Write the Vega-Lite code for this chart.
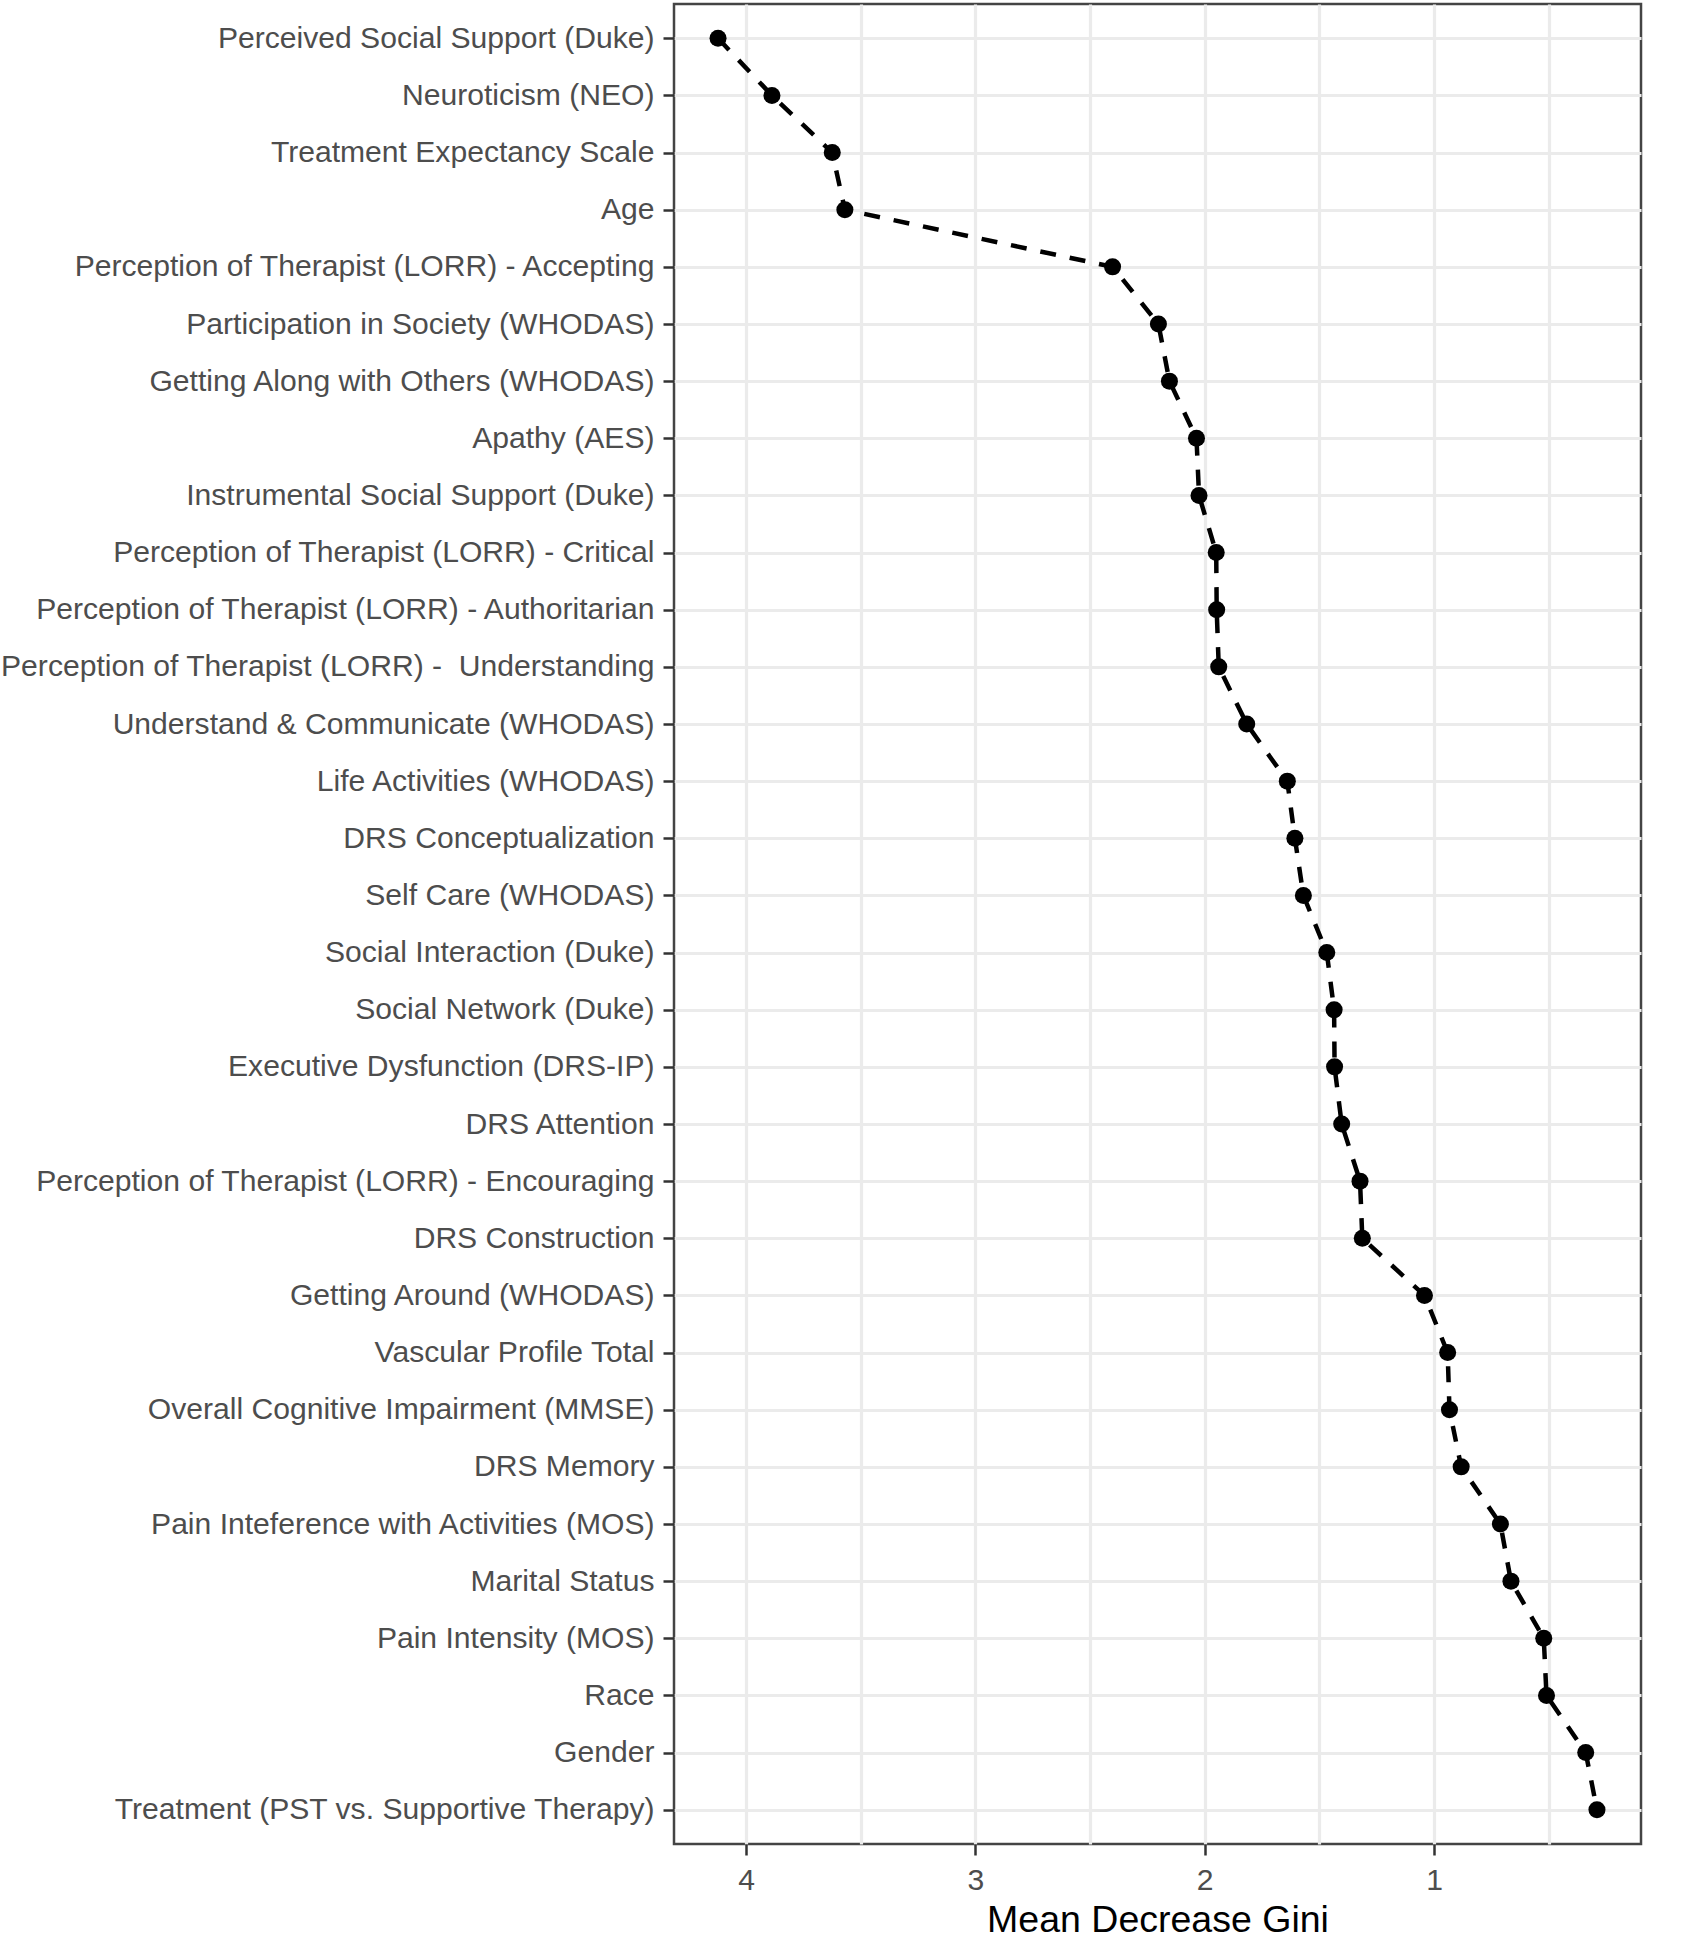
{
  "$schema": "https://vega.github.io/schema/vega-lite/v6.json",
  "autosize": {"type": "none"},
  "padding": {"left": 674, "top": 4, "right": 47, "bottom": 97},
  "width": 967,
  "height": 1840,
  "background": "white",
  "config": {
    "view": {"stroke": "#444444", "strokeWidth": 2.5},
    "font": "Liberation Sans"
  },
  "data": {
    "values": [
      {"rank": 1, "variable": "Perceived Social Support (Duke)", "gini": 4.122},
      {"rank": 2, "variable": "Neuroticism (NEO)", "gini": 3.887},
      {"rank": 3, "variable": "Treatment Expectancy Scale", "gini": 3.624},
      {"rank": 4, "variable": "Age", "gini": 3.569},
      {"rank": 5, "variable": "Perception of Therapist (LORR) - Accepting", "gini": 2.402},
      {"rank": 6, "variable": "Participation in Society (WHODAS)", "gini": 2.202},
      {"rank": 7, "variable": "Getting Along with Others (WHODAS)", "gini": 2.154},
      {"rank": 8, "variable": "Apathy (AES)", "gini": 2.036},
      {"rank": 9, "variable": "Instrumental Social Support (Duke)", "gini": 2.025},
      {"rank": 10, "variable": "Perception of Therapist (LORR) - Critical", "gini": 1.95},
      {"rank": 11, "variable": "Perception of Therapist (LORR) - Authoritarian", "gini": 1.948},
      {"rank": 12, "variable": "Perception of Therapist (LORR) -\u00a0 Understanding", "gini": 1.939},
      {"rank": 13, "variable": "Understand & Communicate (WHODAS)", "gini": 1.817},
      {"rank": 14, "variable": "Life Activities (WHODAS)", "gini": 1.64},
      {"rank": 15, "variable": "DRS Conceptualization", "gini": 1.607},
      {"rank": 16, "variable": "Self Care (WHODAS)", "gini": 1.57},
      {"rank": 17, "variable": "Social Interaction (Duke)", "gini": 1.468},
      {"rank": 18, "variable": "Social Network (Duke)", "gini": 1.436},
      {"rank": 19, "variable": "Executive Dysfunction (DRS-IP)", "gini": 1.434},
      {"rank": 20, "variable": "DRS Attention", "gini": 1.403},
      {"rank": 21, "variable": "Perception of Therapist (LORR) - Encouraging", "gini": 1.323},
      {"rank": 22, "variable": "DRS Construction", "gini": 1.313},
      {"rank": 23, "variable": "Getting Around (WHODAS)", "gini": 1.042},
      {"rank": 24, "variable": "Vascular Profile Total", "gini": 0.941},
      {"rank": 25, "variable": "Overall Cognitive Impairment (MMSE)", "gini": 0.933},
      {"rank": 26, "variable": "DRS Memory", "gini": 0.882},
      {"rank": 27, "variable": "Pain Inteference with Activities (MOS)", "gini": 0.711},
      {"rank": 28, "variable": "Marital Status", "gini": 0.665},
      {"rank": 29, "variable": "Pain Intensity (MOS)", "gini": 0.522},
      {"rank": 30, "variable": "Race", "gini": 0.51},
      {"rank": 31, "variable": "Gender", "gini": 0.339},
      {"rank": 32, "variable": "Treatment (PST vs. Supportive Therapy)", "gini": 0.29}
    ]
  },
  "encoding": {
    "y": {
      "field": "variable",
      "type": "nominal",
      "sort": null,
      "scale": {"padding": 0.6},
      "axis": {
        "title": null,
        "domain": false,
        "grid": true,
        "gridColor": "#EBEBEB",
        "gridWidth": 3.2,
        "tickColor": "#333333",
        "tickWidth": 2.5,
        "tickSize": 11,
        "labelFontSize": 30.1,
        "labelColor": "#4D4D4D",
        "labelPadding": 9,
        "labelLimit": 800
      }
    },
    "x": {
      "field": "gini",
      "type": "quantitative",
      "scale": {"domain": [0.098, 4.314], "reverse": true, "nice": false, "zero": false},
      "axis": {
        "title": "Mean Decrease Gini",
        "values": [0.5, 1, 1.5, 2, 2.5, 3, 3.5, 4],
        "labelExpr": "datum.value % 1 === 0 ? format(datum.value, 'd') : ''",
        "tickOpacity": {"condition": {"test": "datum.value % 1 !== 0", "value": 0}, "value": 1},
        "domain": false,
        "grid": true,
        "gridColor": "#EBEBEB",
        "gridWidth": 3.2,
        "tickColor": "#333333",
        "tickWidth": 2.5,
        "tickSize": 11,
        "labelFontSize": 30.1,
        "labelColor": "#4D4D4D",
        "labelPadding": 10,
        "titleFontSize": 37.5,
        "titleFontWeight": "normal",
        "titleColor": "#000000",
        "titlePadding": 6
      }
    }
  },
  "layer": [
    {
      "mark": {"type": "line", "color": "#000000", "strokeWidth": 4.5, "strokeDash": [16, 14]},
      "encoding": {"order": {"field": "rank", "type": "quantitative"}}
    },
    {
      "mark": {"type": "circle", "color": "#000000", "opacity": 1, "size": 290}
    }
  ]
}
